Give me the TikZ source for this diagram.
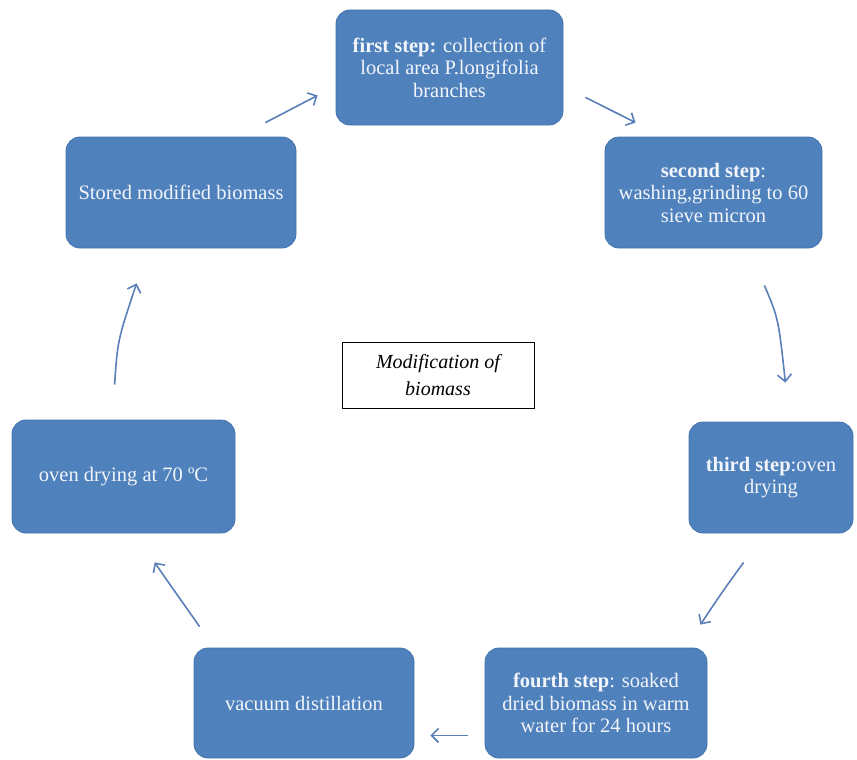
\documentclass[tikz,border=0pt]{standalone}
\usepackage{fontspec}
\setmainfont{Liberation Serif}
\usetikzlibrary{arrows.meta}
\definecolor{boxblue}{HTML}{4F81BD}
\definecolor{boxedge}{HTML}{4373AD}
\definecolor{arrblue}{HTML}{5B7FB8}
\definecolor{boxtext}{HTML}{F2F5FA}
\tikzset{
  stepbox/.style={draw=boxedge, fill=boxblue, rounded corners=14pt, align=center,
    text=boxtext, font=\fontsize{20.5}{22.5}\selectfont, inner sep=0pt, line width=0.8pt},
  arr/.style={draw=arrblue, line width=1.6pt, -{Straight Barb[length=7pt,width=14pt]}},
  centerbox/.style={draw=black, line width=0.8pt, fill=white, align=center,
    font=\fontsize{20}{27}\selectfont\itshape, inner sep=0pt}
}
\begin{document}
\begin{tikzpicture}[x=1pt,y=-1pt]
\useasboundingbox (0,0) rectangle (857,760);
\node[stepbox, minimum width=227pt, minimum height=115pt] (s1) at (449.5,67.5)
  {\textbf{first step:} collection of\\local area P.longifolia\\branches};
\node[stepbox, minimum width=217pt, minimum height=111pt] (s2) at (713.5,192.5)
  {\textbf{second step}:\\washing,grinding to 60\\sieve micron};
\node[stepbox, minimum width=164pt, minimum height=111pt] (s3) at (771,477.5)
  {\textbf{third step}:oven\\drying};
\node[stepbox, minimum width=222pt, minimum height=110pt] (s4) at (596,703)
  {\textbf{fourth step}: soaked\\dried biomass in warm\\water for 24 hours};
\node[stepbox, minimum width=220pt, minimum height=110pt] (s5) at (304,703)
  {vacuum distillation};
\node[stepbox, minimum width=223pt, minimum height=113pt] (s6) at (123.5,476.5)
  {oven drying at 70 ºC};
\node[stepbox, minimum width=230pt, minimum height=111pt] (s7) at (181,192.5)
  {Stored modified biomass};
\node[centerbox, minimum width=192pt, minimum height=66pt] (c) at (438,375)
  {Modification of\\biomass};
% arrows
\draw[arr] ([shift={(-31,-14)}]s7.north east) -- ([shift={(-18,-30)}]s1.south west);
\draw[arr] ([shift={(22,-28)}]s1.south east) -- ([shift={(31,-14)}]s2.north west);
\draw[arr] ([shift={(-58,37)}]s2.south east) .. controls ([shift={(-44,70)}]s2.south east) .. ([shift={(-68,-39)}]s3.north east);
\draw[arr] ([shift={(55,29)}]s3.south west) .. controls ([shift={(34,58)}]s3.south west) .. ([shift={(-7,-23)}]s4.north east);
\draw[arr] ([shift={(-17,-23)}]s4.south west) -- ([shift={(16,-23)}]s5.south east);
\draw[arr] ([shift={(6,-21)}]s5.north west) .. controls ([shift={(156.5,48.5)}]s6.south west) .. ([shift={(143,29)}]s6.south west);
\draw[arr] ([shift={(103,-35)}]s6.north west) .. controls ([shift={(52,92)}]s7.south west) .. ([shift={(71,35)}]s7.south west);
\end{tikzpicture}
\end{document}
